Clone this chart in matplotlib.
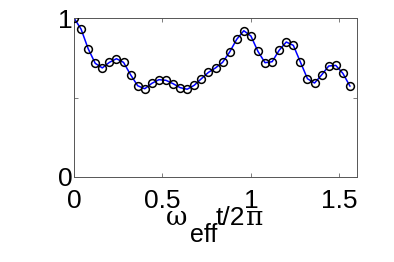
import matplotlib
matplotlib.use("Agg")
import matplotlib.pyplot as plt
import numpy as np

plt.rcParams['font.family'] = ['Liberation Sans', 'DejaVu Sans']

W, H = 394, 262

# omega_eff t / 2pi samples
t = np.round(np.arange(40) * 0.04, 2)
p = [1.00, 0.93, 0.807, 0.715, 0.686, 0.721, 0.744, 0.721, 0.643, 0.574,
     0.555, 0.589, 0.612, 0.608, 0.587, 0.562, 0.552, 0.577, 0.618, 0.658,
     0.686, 0.721, 0.786, 0.866, 0.920, 0.887, 0.790, 0.719, 0.725, 0.797,
     0.849, 0.828, 0.723, 0.618, 0.591, 0.642, 0.698, 0.702, 0.652, 0.572]

xticks = [0, 0.5, 1, 1.5]
xticklabels = ['0', '0.5', '1', '1.5']
yticks = [0, 0.5, 1]
yticklabels = ['0', '', '1']

fig = plt.figure(figsize=(W / 100, H / 100), dpi=100)
ax = fig.add_axes([74 / W, 85 / H, 283 / W, 159 / H])

ax.plot(t, p, '-', color='#0000ff', lw=1.1, zorder=2)
ax.plot(t, p, 'o', mfc='none', mec='black', ms=5.6, mew=1.1, zorder=3)

ax.set_xlim(0, 1.6)
ax.set_ylim(0, 1)
ax.set_xticks(xticks)
ax.set_xticklabels(xticklabels)
ax.set_yticks(yticks)
ax.set_yticklabels(yticklabels)
ax.tick_params(direction='in', length=3, width=0.6, color='#666666',
               top=True, right=True, labelsize=19)
ax.tick_params(axis='x', pad=9)
ax.tick_params(axis='y', pad=1)
for s in ax.spines.values():
    s.set_color('#555555')
    s.set_linewidth(0.7)

# x label: omega_eff t/2pi, pieced together like the original
def put(x, y, s, **kw):
    fig.text(x / W, 1 - y / H, s, va='baseline', ha='left', **kw)

serif = ['DejaVu Serif', 'Liberation Serif']
put(166, 225, '\u03c9', family=serif, fontsize=19)
put(190, 242, 'eff', fontsize=18)
put(216, 225, 't/2', fontsize=19)
put(246, 225, '\u03c0', family=serif, fontsize=19)

fig.savefig('out.png', dpi=100)
